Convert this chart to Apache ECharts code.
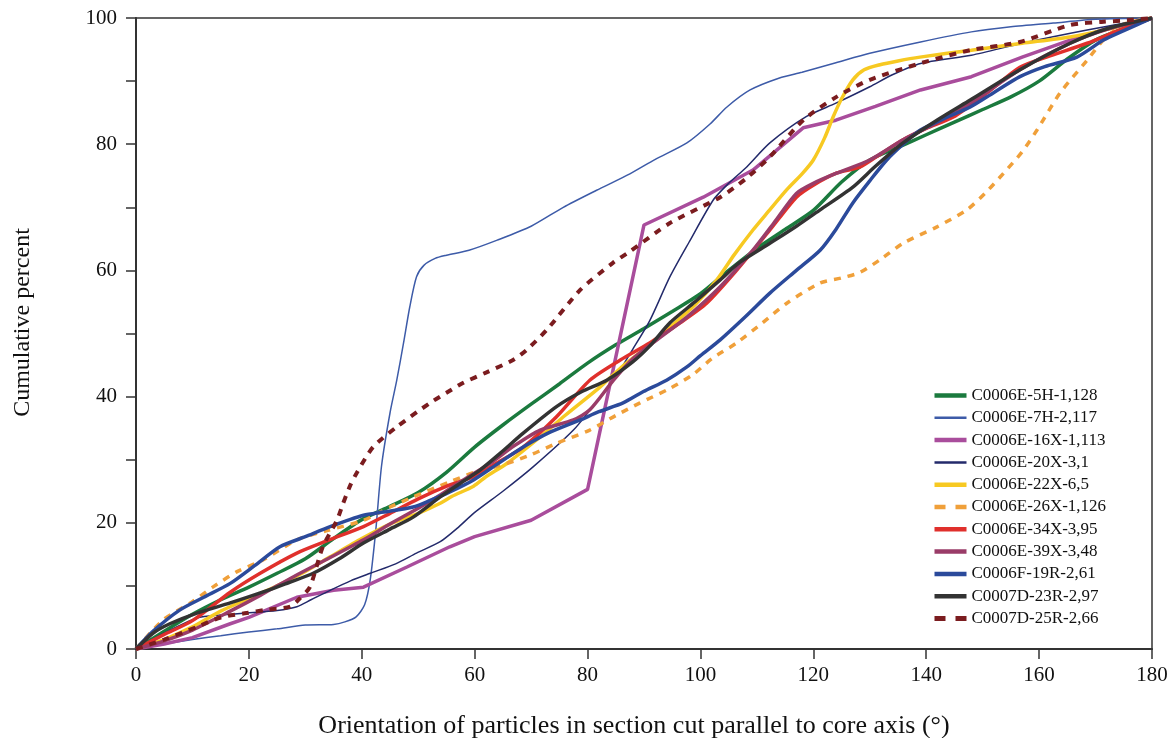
<!DOCTYPE html>
<html>
<head>
<meta charset="utf-8">
<script src="https://cdn.jsdelivr.net/npm/echarts@6/dist/echarts.min.js"></script>
<style>
  html, body { margin: 0; padding: 0; background: #fff; }
  #chart { width: 1171px; height: 738px; }
</style>
</head>
<body>
<div id="chart"></div>
<script>
// Cumulative orientation curves: [angle in degrees, cumulative percent]
const s5H_1_128 = [[0,0],[5,2.8],[10,5.5],[15,7.8],[20,9.8],[25,12],[30,14.3],[35,17.5],[40,20.5],[45,22.6],[50,24.8],[55,28],[60,32],[65,35.5],[70,38.8],[75,42],[80,45.3],[85,48.2],[90,50.8],[95,53.5],[100,56.3],[105,60],[110,63.5],[115,66.5],[120,69.5],[125,74],[130,77.5],[135,79.5],[140,81.5],[145,83.5],[150,85.5],[155,87.5],[160,90],[165,93.5],[170,96.5],[175,98.3],[180,100]];
const s7H_2_117 = [[0,0],[5,0.8],[10,1.5],[15,2.1],[20,2.7],[25,3.2],[30,3.8],[35,3.9],[37,4.3],[39,5.1],[40.5,7],[41.5,11],[42.5,19],[43.5,29],[45,37.4],[46.2,42.6],[47.4,48.5],[48.5,54.2],[49.7,59],[51,60.8],[53,61.9],[55,62.4],[59,63.2],[64,64.8],[70,67],[75.7,70],[81.6,72.7],[87.5,75.3],[92,77.6],[97.6,80.2],[101.7,83.2],[104.7,85.9],[108.8,88.6],[114,90.5],[118,91.4],[124,92.9],[130,94.4],[139,96.2],[148,97.8],[155,98.6],[162.5,99.2],[170,99.8],[180,100]];
const s16X_1_113 = [[0,0],[5,0.8],[10,1.8],[16.7,4],[20,5],[28.5,8.2],[35,9.3],[40.3,9.8],[48,13],[55.6,16.2],[60,17.8],[70,20.4],[80,25.3],[90,67.2],[100.5,71.6],[109.3,75.9],[118.2,82.6],[124,83.8],[131,86],[139,88.6],[148,90.7],[157,93.8],[165.5,96.5],[172,98.3],[180,100]];
const s20X_3_1 = [[0,0],[5,2.5],[10.8,4.9],[15,5.4],[19.6,5.7],[25,6.1],[28.5,6.7],[31,7.8],[34.4,9.3],[38,10.8],[41.5,12],[46,13.5],[49.7,15.2],[53.9,17],[57,19.2],[59.8,21.5],[65,25],[70.4,28.9],[77.5,34.7],[81,38.5],[84.6,42.6],[88,47.5],[91,52],[94.6,59],[98,64.5],[102.3,71.2],[105,73.8],[108.2,76.4],[112.3,80.2],[118.8,84.4],[124,86.5],[130,89.1],[134,91],[139,92.8],[148,94.1],[157,96],[168.5,98.1],[180,100]];
const s22X_6_5 = [[0,0],[5,1.5],[10,3.5],[15,6],[20,8],[25,10],[30,12.3],[34.4,14.6],[40,17.5],[45,19.8],[50,21.5],[53.9,23.1],[56,24.2],[59.8,25.8],[62,27.3],[65.7,29.4],[71.6,33.6],[76,37],[82.2,41.5],[85.8,44.5],[90,47.5],[94.6,51],[99,54.5],[102.9,58.5],[106,62.5],[109.3,66.4],[112,69.3],[115.3,72.8],[118,75.3],[120,77.5],[122,81],[123.5,84.3],[125,87.2],[127,90.2],[129,91.8],[131.8,92.6],[135,93.2],[138.9,93.8],[148,94.9],[157,96],[165.5,97],[172,98.2],[180,100]];
const s26X_1_126 = [[0,0],[4.8,4.6],[10,7.5],[13.6,9.8],[18,12.3],[22.5,14.1],[28.5,17.3],[34,18.8],[40.3,20.4],[45,22.5],[49.1,24.1],[55.6,26.5],[60,28],[65.7,29.4],[70,30.8],[74.5,32.6],[80.4,34.7],[85,37],[89.3,39],[94.6,41.3],[98.7,43.5],[102,46],[106.4,48.5],[111,51.7],[115.3,54.8],[121.2,58],[125,58.8],[128.3,59.7],[132,61.8],[135.9,64.3],[141.9,66.9],[147.2,69.6],[150.5,72.3],[153.7,75.4],[157,78.8],[159.6,82.2],[163.7,88.1],[168.5,93.3],[171.4,96.5],[175,99],[180,100]];
const s34X_3_95 = [[0,0],[5,2.3],[10,4.5],[16.7,9],[22,12],[28.5,15.2],[34,17.2],[40.3,19.4],[45,21.5],[50,23.8],[55.6,26],[59.8,27.3],[64,29.5],[68.6,32],[74.5,36.8],[80.4,42.6],[85.8,45.8],[91,48.5],[96.4,51.7],[101.1,54.8],[106.4,60],[112.3,66.4],[117,71.6],[120,73.5],[124.1,75.4],[128.3,76.4],[132,78.5],[135.9,80.7],[140,82.5],[144.8,84.3],[150.7,88.1],[156.6,92.2],[161.3,93.8],[168.5,96],[174,98],[180,100]];
const s39X_3_48 = [[0,0],[5,1.3],[10,3],[16.7,6],[22,8.5],[28,11.5],[34,14.3],[40.3,17.3],[45,19.8],[50,22.3],[53.9,24.4],[58,26.8],[62.7,29.4],[67,32.2],[71.6,34.7],[77.5,36.3],[80.4,37.9],[84.6,42.6],[88,46],[92,48.8],[97.6,52.6],[103.5,57.4],[109.3,63.2],[113,67.5],[117,72.2],[120,73.8],[124.1,75.4],[130,77.5],[135.9,80.7],[141.9,83.4],[147.8,86.5],[156.6,91.8],[165.5,96],[172,98.2],[180,100]];
const s19R_2_61 = [[0,0],[3,2.8],[7.8,6.2],[12,8.2],[16.7,10.4],[21,13.2],[25.5,16.2],[30,17.8],[34.4,19.4],[40.3,21.2],[43.9,21.7],[49.1,22.5],[52,23.5],[55.6,24.9],[59.8,26.8],[64,29.3],[68.6,32],[73,34.2],[78.7,36.3],[82,37.6],[86.3,39],[89.9,40.8],[94,42.6],[97.6,44.7],[100,46.5],[103.5,49],[108,52.7],[112.3,56.4],[117,60],[121.2,63.2],[124,66.5],[127,70.7],[130,74.2],[133,77.5],[135.9,80],[138.9,82.2],[143,84],[147.8,85.9],[152,88.2],[156.6,90.7],[161,92.3],[166.7,93.8],[171.4,96.5],[175,98],[180,100]];
const s23R_2_97 = [[0,0],[3,2.5],[6,4],[10.8,5.7],[16.7,7.3],[23.7,9.4],[27,10.5],[31.4,12],[36,14.3],[40.3,16.8],[45,19],[49.1,20.9],[53.9,24.1],[57,26],[61,28.4],[64.5,31],[68.6,34.2],[74.5,38.4],[79,40.8],[83.4,42.6],[88,45.5],[91,48],[94.6,51.7],[99,55],[103.5,58.5],[107,61.3],[112.3,64.3],[117,67],[121.2,69.6],[127,73.2],[131,76.5],[135.9,80.2],[141.9,83.8],[147.8,87],[156.6,91.8],[165.5,96],[172,98.3],[180,100]];
const s25R_2_66 = [[0,0],[5,1.5],[10.8,3.5],[15,5],[19.6,5.7],[23,6.2],[27.3,6.7],[29,8],[30.8,9.8],[33.1,16.2],[35.6,20.4],[36.7,23.1],[38,26],[39.1,27.9],[42,32],[46.2,35.2],[52.1,39],[55,40.6],[58,42.2],[62,43.8],[66.8,45.8],[69.2,47.4],[72.8,50.6],[78.7,56.9],[84.5,61.2],[87.5,63],[94.6,67.5],[103.5,71.6],[108,74.5],[112.3,78],[118.2,83.8],[124.1,87.5],[130,90.2],[138.9,92.8],[147.8,94.9],[156.6,96.2],[165.5,98.9],[171.4,99.4],[175,99.6],[180,100]];

const seriesNames = ['C0006E-5H-1,128','C0006E-7H-2,117','C0006E-16X-1,113','C0006E-20X-3,1','C0006E-22X-6,5','C0006E-26X-1,126','C0006E-34X-3,95','C0006E-39X-3,48','C0006F-19R-2,61','C0007D-23R-2,97','C0007D-25R-2,66'];
const seriesData = [s5H_1_128, s7H_2_117, s16X_1_113, s20X_3_1, s22X_6_5, s26X_1_126, s34X_3_95, s39X_3_48, s19R_2_61, s23R_2_97, s25R_2_66];

// Axis ticks: x every 20; y ticks every 10 with labels on every 20
const xTicks = [0, 20, 40, 60, 80, 100, 120, 140, 160, 180];
const yTicks = [0, 10, 20, 30, 40, 50, 60, 70, 80, 90, 100];
const yTickLabels = ['0', '', '20', '', '40', '', '60', '', '80', '', '100'];

// Line appearance per series: colour, width, dash, smoothing
const styles = [
  { color: '#1b7a3e', width: 3.5, type: 'solid', smooth: 0.25 },
  { color: '#3d5ba8', width: 1.5, type: 'solid', smooth: 0.25 },
  { color: '#a94d9c', width: 3.5, type: 'solid', smooth: false },
  { color: '#232a6b', width: 1.5, type: 'solid', smooth: 0.25 },
  { color: '#f7c922', width: 3.5, type: 'solid', smooth: 0.25 },
  { color: '#f0a03a', width: 3.5, type: [7, 7], smooth: 0.25 },
  { color: '#e0302c', width: 3.5, type: 'solid', smooth: 0.25 },
  { color: '#9a3c68', width: 3.5, type: 'solid', smooth: 0.25 },
  { color: '#2b4a9b', width: 3.5, type: 'solid', smooth: 0.25 },
  { color: '#333333', width: 3.5, type: 'solid', smooth: 0.25 },
  { color: '#7b1c1f', width: 4, type: [7, 7], smooth: 0.25 }
];

const FONT = '"Liberation Serif", "DejaVu Serif", serif';

const chart = echarts.init(document.getElementById('chart'), null, { renderer: 'canvas' });

chart.setOption({
  backgroundColor: '#ffffff',
  animation: false,
  grid: {
    left: 136, right: 19, top: 18, bottom: 89,
    outerBoundsMode: 'none',
    show: true, borderColor: '#333', borderWidth: 1.5, backgroundColor: 'transparent'
  },
  xAxis: {
    type: 'value',
    min: xTicks[0], max: xTicks[xTicks.length - 1], interval: xTicks[1] - xTicks[0],
    name: 'Orientation of particles in section cut parallel to core axis (°)',
    nameLocation: 'middle', nameGap: 64,
    nameTextStyle: { fontFamily: FONT, fontSize: 26, color: '#111', padding: [0, 20, 0, 0] },
    axisLine: { show: true, lineStyle: { color: '#333', width: 2 } },
    axisTick: { show: true, inside: false, length: 10, lineStyle: { color: '#333', width: 1.5 } },
    axisLabel: { fontFamily: FONT, fontSize: 21, color: '#111', margin: 16 },
    splitLine: { show: false }
  },
  yAxis: {
    type: 'value',
    min: yTicks[0], max: yTicks[yTicks.length - 1], interval: yTicks[1] - yTicks[0],
    name: 'Cumulative percent',
    nameLocation: 'middle', nameGap: 101,
    nameTextStyle: { fontFamily: FONT, fontSize: 24, color: '#111', padding: [0, 0, 0, 22] },
    axisLine: { show: true, lineStyle: { color: '#333', width: 2 } },
    axisTick: { show: true, inside: false, length: 10, lineStyle: { color: '#333', width: 1.5 } },
    axisLabel: {
      fontFamily: FONT, fontSize: 21, color: '#111', margin: 19,
      formatter: v => yTickLabels[yTicks.indexOf(v)] || ''
    },
    splitLine: { show: false }
  },
  legend: {
    orient: 'vertical',
    left: 927, top: 382,
    itemWidth: 32, itemHeight: 14, itemGap: 5.3,
    itemStyle: { opacity: 0 },
    lineStyle: { width: 'inherit' },
    textStyle: { fontFamily: FONT, fontSize: 17, color: '#111', lineHeight: 17 },
    data: seriesNames.map((name, i) => ({
      name: name,
      lineStyle: {
        width: styles[i].width + 1,
        type: Array.isArray(styles[i].type) ? [11, 10] : 'solid'
      }
    }))
  },
  series: seriesNames.map((name, i) => ({
    name: name,
    type: 'line',
    data: seriesData[i],
    symbol: 'none',
    smooth: styles[i].smooth,
    lineStyle: { color: styles[i].color, width: styles[i].width, type: styles[i].type, cap: 'butt' },
    itemStyle: { color: styles[i].color },
    z: 2
  }))
});
</script>
</body>
</html>
